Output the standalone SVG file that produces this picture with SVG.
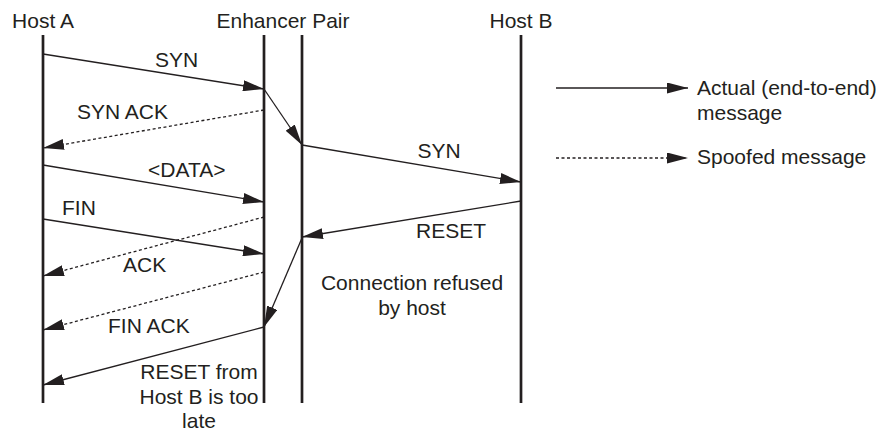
<svg xmlns="http://www.w3.org/2000/svg" width="876" height="431" viewBox="0 0 876 431">
<defs>
<marker id="ah" markerUnits="userSpaceOnUse" markerWidth="22" markerHeight="11" refX="21" refY="5.5" orient="auto">
<path d="M0,0 L21,5.5 L0,11 Z" fill="#231f20"/>
</marker>
<style>
text{font-family:"Liberation Sans",Arial,sans-serif;font-size:21px;fill:#231f20}
.life{stroke:#231f20;stroke-width:2.7;fill:none}
.msg{stroke:#231f20;stroke-width:1.3;fill:none;marker-end:url(#ah)}
.spoof{stroke-dasharray:3,2.5}
.c{text-anchor:middle}
</style>
</defs>
<rect width="876" height="431" fill="#fff"/>
<g id="hostA">
<line class="life" x1="43" y1="35" x2="43" y2="403"/>
<text class="c" x="43" y="28">Host A</text>
</g>
<g id="enhancer">
<line class="life" x1="264" y1="35" x2="264" y2="403"/>
<line class="life" x1="302" y1="35" x2="302" y2="403"/>
<text class="c" x="283" y="28">Enhancer Pair</text>
</g>
<g id="hostB">
<line class="life" x1="521" y1="35" x2="521" y2="403"/>
<text class="c" x="521" y="28">Host B</text>
</g>
<g id="connectors">
<path class="msg" d="M43,54 L264,89"/>
<path class="msg" d="M264,89 L302,145"/>
<path class="msg spoof" d="M264,110 L43,148"/>
<path class="msg" d="M302,145 L521,182"/>
<path class="msg" d="M43,165 L264,202"/>
<path class="msg" d="M521,201 L302,237"/>
<path class="msg" d="M43,219 L264,254"/>
<path class="msg spoof" d="M264,217 L43,276"/>
<path class="msg" d="M302,238 L264,327"/>
<path class="msg spoof" d="M264,272 L43,330"/>
<path class="msg" d="M264,327 L43,385"/>
</g>
<g id="labels">
<text class="c" x="176.5" y="67">SYN</text>
<text x="77" y="119">SYN ACK</text>
<text x="148" y="177">&lt;DATA&gt;</text>
<text x="62" y="215">FIN</text>
<text x="123" y="272">ACK</text>
<text x="108" y="333">FIN ACK</text>
<text class="c" x="199" y="379">RESET from</text>
<text class="c" x="199" y="404">Host B is too</text>
<text class="c" x="199" y="428">late</text>
<text class="c" x="439" y="158">SYN</text>
<text x="416" y="238">RESET</text>
<text class="c" x="412" y="290">Connection refused</text>
<text class="c" x="412" y="315">by host</text>
</g>
<g id="legend">
<path class="msg" d="M556,88 L688,88"/>
<text x="697" y="95">Actual (end-to-end)</text>
<text x="697" y="120">message</text>
<path class="msg spoof" d="M556,158 L688,158"/>
<text x="697" y="164">Spoofed message</text>
</g>
</svg>
